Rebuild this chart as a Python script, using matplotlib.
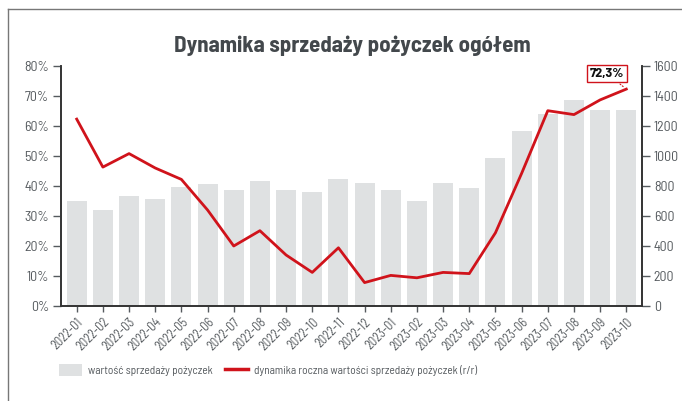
import matplotlib
matplotlib.use("Agg")
import matplotlib.pyplot as plt
from matplotlib.lines import Line2D
from matplotlib.patches import Patch

months = ["2022-01","2022-02","2022-03","2022-04","2022-05","2022-06","2022-07","2022-08",
          "2022-09","2022-10","2022-11","2022-12","2023-01","2023-02","2023-03","2023-04",
          "2023-05","2023-06","2023-07","2023-08","2023-09","2023-10"]
sales = [702, 638, 733, 711, 791, 813, 773, 836, 773, 760, 847, 818,
         773, 698, 818, 789, 989, 1169, 1280, 1373, 1304, 1309]
dynamics = [62.3, 46.3, 50.8, 46.0, 42.2, 32.0, 20.0, 25.1, 17.0, 11.2, 19.4, 7.8,
            10.2, 9.4, 11.2, 10.8, 24.4, 44.2, 65.1, 63.8, 68.7, 72.3]
title = "Dynamika sprzedaży pożyczek ogółem"
label_bar = "wartość sprzedaży pożyczek"
label_line = "dynamika roczna wartości sprzedaży pożyczek (r/r)"
last_label = "72,3%"

plt.rcParams['font.family'] = ['Barlow Semi Condensed', 'Roboto Condensed',
                               'Asap Condensed', 'DejaVu Sans']
gray = "#555a5e"

fig = plt.figure(figsize=(6.82, 4.01), dpi=100)
ax_pct = fig.add_axes([61/682, 1-306/401, (642-61)/682, 240/401])
ax_val = ax_pct.twinx()
ax_pct.set_zorder(2)
ax_pct.patch.set_visible(False)

x = list(range(len(months)))
ax_val.bar(x, sales, width=0.76, color="#dfe1e2", zorder=1)
ax_val.set_ylim(0, 1600)
ax_val.set_yticks(range(0, 1601, 200))

ax_pct.plot(x, dynamics, color="#d0131b", lw=2, zorder=3)
ax_pct.set_ylim(0, 80)
ax_pct.set_yticks(range(0, 81, 10))
ax_pct.set_yticklabels([f"{v}%" for v in range(0, 81, 10)])
ax_pct.set_xlim(-0.6, len(months) - 0.4)
ax_pct.set_xticks(x)
ax_pct.set_xticklabels(months, rotation=45, ha="right", rotation_mode="anchor")

for a in (ax_pct, ax_val):
    a.spines['top'].set_visible(False)
    for s in ('left', 'right', 'bottom'):
        a.spines[s].set_color("#333333")
        a.spines[s].set_linewidth(1.2)
    a.tick_params(colors=gray, labelsize=10, length=5.5, width=1, pad=3)
ax_pct.tick_params(axis='x', length=4, labelsize=9, pad=3)

ax_pct.annotate(last_label, xy=(x[-1], dynamics[-1]), xytext=(x[-1] - 0.74, 77.5),
                ha="center", va="center", fontsize=10, fontweight="bold", color="#111111",
                bbox=dict(boxstyle="square,pad=0.2", fc="white", ec="#d0131b", lw=1),
                arrowprops=dict(arrowstyle="-", color="#d0131b", lw=0.8, linestyle=":"),
                zorder=5)

fig.text(352/682, 1-46/401, title, ha="center", va="center", fontsize=16.5,
         fontweight="bold", color="#43484c")

handles = [Patch(facecolor="#dfe1e2", edgecolor="none", label=label_bar),
           Line2D([0], [0], color="#d0131b", lw=2.5, label=label_line)]
fig.legend(handles=handles, loc="center", bbox_to_anchor=(268/682, 1-370/401), ncol=2,
           frameon=False, fontsize=8.2, labelcolor=gray, handlelength=2.0,
           handleheight=1.3, columnspacing=1.1, handletextpad=0.5)

fig.add_artist(Line2D([8/682, 8/682], [0, 1-9/401], transform=fig.transFigure,
                      color="#777777", lw=1))
fig.add_artist(Line2D([8/682, 1], [1-9/401, 1-9/401], transform=fig.transFigure,
                      color="#777777", lw=1))

fig.savefig("out.png", dpi=100)
